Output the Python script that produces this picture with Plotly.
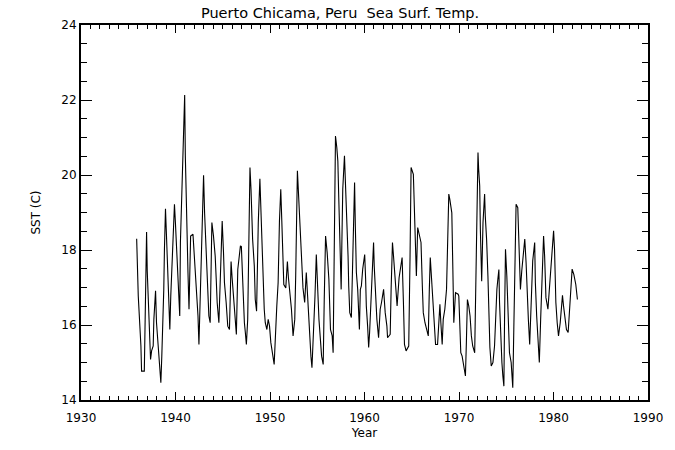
import plotly.graph_objects as go

# Puerto Chicama, Peru sea surface temperature
years = [
    1935.89, 1935.96, 1936.06, 1936.34, 1936.41, 1936.70, 1936.80, 1936.94, 1937.01, 1937.19,
    1937.29, 1937.36, 1937.47, 1937.64, 1937.71, 1937.89, 1937.99, 1938.24, 1938.34, 1938.45,
    1938.55, 1938.66, 1938.76, 1938.83, 1938.94, 1939.04, 1939.22, 1939.40, 1939.50, 1939.75,
    1939.89, 1939.99, 1940.10, 1940.27, 1940.45, 1940.52, 1940.66, 1940.80, 1940.87, 1940.97,
    1941.04, 1941.15, 1941.32, 1941.43, 1941.60, 1941.85, 1942.02, 1942.20, 1942.38, 1942.48,
    1942.62, 1942.83, 1942.97,
    1943.08, 1943.25, 1943.32, 1943.43, 1943.53, 1943.67, 1943.78, 1943.85, 1944.02, 1944.20,
    1944.31, 1944.41, 1944.59, 1944.76, 1944.83, 1944.94, 1945.08, 1945.18, 1945.36, 1945.53,
    1945.71, 1945.78, 1945.88, 1945.99, 1946.16, 1946.30, 1946.44, 1946.59, 1946.69, 1946.87,
    1946.97, 1947.11, 1947.22, 1947.29, 1947.39, 1947.50, 1947.64, 1947.74, 1947.88, 1947.99,
    1948.16, 1948.34, 1948.44, 1948.58, 1948.76, 1948.93, 1949.11, 1949.22, 1949.39, 1949.50,
    1949.67, 1949.81, 1949.95, 1950.09, 1950.27, 1950.44, 1950.72, 1950.86, 1951.00, 1951.14,
    1951.25, 1951.39, 1951.46, 1951.67, 1951.84, 1951.95, 1952.13, 1952.27, 1952.44, 1952.62,
    1952.72, 1952.90, 1953.07, 1953.21, 1953.35, 1953.49, 1953.67, 1953.84, 1953.98, 1954.12,
    1954.23, 1954.33, 1954.44, 1954.58, 1954.76, 1954.90, 1955.04, 1955.18, 1955.46, 1955.63,
    1955.74, 1955.88, 1956.05, 1956.23, 1956.40, 1956.58, 1956.68, 1956.82, 1956.93, 1957.07,
    1957.18, 1957.28, 1957.42, 1957.53, 1957.60, 1957.70, 1957.88, 1957.98, 1958.16, 1958.26,
    1958.33, 1958.44, 1958.61, 1958.75, 1958.89, 1958.95,
    1959.03, 1959.14, 1959.28, 1959.35, 1959.46, 1959.56, 1959.67, 1959.81, 1960.02, 1960.12,
    1960.19, 1960.33, 1960.44, 1960.54, 1960.61, 1960.79, 1960.96, 1961.03, 1961.14, 1961.31,
    1961.49, 1961.66, 1961.80, 1962.02, 1962.19, 1962.37, 1962.44, 1962.72, 1962.82, 1962.96,
    1963.07, 1963.17, 1963.28, 1963.45, 1963.66, 1963.98, 1964.12, 1964.23, 1964.40, 1964.68,
    1964.82, 1964.93, 1965.17, 1965.28, 1965.38, 1965.49, 1965.63, 1965.80, 1965.98, 1966.12,
    1966.22, 1966.40,
    1966.75, 1966.86, 1966.96, 1967.10, 1967.21, 1967.31, 1967.42, 1967.52, 1967.73, 1967.84,
    1967.98, 1968.08, 1968.22, 1968.33, 1968.50, 1968.68, 1968.78, 1968.92, 1969.03, 1969.13,
    1969.24, 1969.35, 1969.45, 1969.63, 1969.91, 1969.98, 1970.08, 1970.19, 1970.33, 1970.47,
    1970.68, 1970.78, 1970.89, 1971.03, 1971.17, 1971.31, 1971.45, 1971.66, 1971.77, 1971.87,
    1972.01, 1972.08, 1972.19, 1972.26, 1972.40, 1972.54, 1972.71, 1972.78, 1972.92, 1973.06,
    1973.17, 1973.27, 1973.41, 1973.59, 1973.76, 1973.87, 1974.01, 1974.11, 1974.22, 1974.29,
    1974.40, 1974.54, 1974.64, 1974.75,
    1974.82, 1974.92, 1975.06, 1975.17, 1975.34, 1975.52, 1975.69, 1975.80, 1975.90, 1976.04,
    1976.22, 1976.32, 1976.39, 1976.50, 1976.64, 1976.82, 1976.96, 1977.10, 1977.20, 1977.34,
    1977.48, 1977.66, 1977.80, 1978.01, 1978.08, 1978.22, 1978.36, 1978.50, 1978.64, 1978.78,
    1978.95, 1979.06, 1979.20, 1979.41, 1979.59, 1979.80, 1980.01, 1980.11, 1980.25, 1980.39,
    1980.53, 1980.71, 1980.81, 1980.95, 1981.06, 1981.20, 1981.37, 1981.55, 1981.73, 1981.83,
    1981.97, 1982.15, 1982.36, 1982.53,
]

sst = [
    18.30, 17.57, 16.77, 15.44, 14.77, 14.77, 16.95, 18.48, 17.44, 16.15,
    15.75, 15.08, 15.31, 15.44, 16.15, 16.91, 16.06, 15.22, 14.91, 14.46,
    15.17, 15.88, 16.95, 18.02, 19.10, 18.42, 17.31, 15.88, 16.77, 18.20,
    19.22, 18.73, 18.11, 17.13, 16.24, 18.20, 19.62, 20.42, 21.31, 22.13,
    20.51, 18.91, 17.40, 16.42, 18.37, 18.42, 17.66, 17.13, 16.24, 15.48,
    16.95, 18.99, 19.99,
    18.98, 17.93, 17.17, 16.51, 16.24, 16.06, 17.40, 18.73, 18.37, 17.84,
    17.22, 16.60, 16.06, 17.40, 17.93, 18.77, 17.93, 17.13, 16.60, 15.97,
    15.88, 16.77, 17.69, 17.26, 16.60, 16.15, 15.75, 17.48, 17.66, 18.11,
    18.09, 17.13, 16.42, 16.06, 15.80, 15.48, 16.15, 18.20, 20.20, 19.62,
    18.29, 17.57, 16.68, 16.37, 18.73, 19.90, 18.55, 17.22, 16.42, 16.06,
    15.88, 16.15, 15.97, 15.53, 15.26, 14.95, 16.51, 17.13, 18.77, 19.62,
    18.77, 17.84, 17.08, 16.99, 17.69, 17.26, 16.86, 16.42, 15.71, 16.15,
    17.31, 20.11, 19.22, 18.33, 17.40, 16.99, 16.60, 17.40, 16.77, 16.15,
    15.44, 15.17, 14.86, 15.53, 16.77, 17.88, 17.04, 16.15, 15.17, 14.95,
    16.68, 18.37, 17.93, 17.22, 15.88, 15.71, 15.26, 18.29, 21.04, 20.73,
    20.37, 19.35, 18.29, 16.95, 18.11, 19.62, 20.51, 19.80, 18.99, 17.84,
    17.04, 16.33, 16.20, 17.49, 18.73, 19.80,
    18.64, 17.40, 16.95, 16.42, 15.88, 16.95, 17.04, 17.49, 17.88, 17.22,
    16.51, 15.97, 15.40, 15.80, 16.15, 17.40, 18.20, 17.57, 16.95, 16.15,
    15.66, 16.42, 16.60, 16.95, 16.33, 15.97, 15.66, 15.75, 16.99, 18.20,
    17.84, 17.48, 16.95, 16.51, 17.26, 17.80, 16.60, 15.48, 15.31, 15.44,
    17.84, 20.20, 20.02, 19.08, 18.20, 17.31, 18.60, 18.37, 18.20, 17.04,
    16.33, 16.06,
    15.71, 16.95, 17.80, 17.22, 16.68, 16.24, 15.88, 15.48, 15.48, 16.15,
    16.55, 16.06, 15.48, 16.15, 16.42, 16.95, 18.20, 19.49, 19.35, 19.17,
    18.99, 17.48, 16.06, 16.86, 16.82, 16.77, 16.02, 15.26, 15.17, 14.91,
    14.64, 15.53, 16.68, 16.51, 16.24, 15.71, 15.44, 15.26, 17.04, 18.82,
    20.60, 20.15, 19.71, 18.55, 17.17, 18.73, 19.49, 18.91, 18.29, 17.31,
    16.33, 15.40, 14.91, 15.00, 15.44, 16.24, 16.95, 17.22, 17.48, 16.60,
    15.71, 15.00, 14.64, 14.37,
    16.15, 18.02, 17.31, 16.60, 15.26, 15.00, 14.33, 15.89, 17.62, 19.22,
    19.13, 18.46, 17.71, 16.95, 17.44, 17.88, 18.29, 17.66, 16.77, 16.15,
    15.48, 16.86, 17.71, 18.20, 17.13, 16.24, 15.53, 15.00, 16.15, 17.13,
    18.37, 17.84, 16.73, 16.42, 17.08, 17.66, 18.51, 18.02, 16.60, 16.06,
    15.71, 16.06, 16.33, 16.79, 16.51, 16.15, 15.88, 15.80, 16.42, 16.95,
    17.49, 17.35, 17.08, 16.68,
]

x_ticks = [1930, 1940, 1950, 1960, 1970, 1980, 1990]
y_ticks = [14, 16, 18, 20, 22, 24]

title_text = "Puerto Chicama, Peru  Sea Surf. Temp."
x_title = "Year"
y_title = "SST (C)"

FONT = "DejaVu Sans"
FIG_W, FIG_H = 675, 450

fig = go.Figure()
fig.add_trace(go.Scatter(
    x=years, y=sst, mode="lines",
    line=dict(color="black", width=1.1),
    hoverinfo="skip", showlegend=False,
))

axis_common = dict(
    showgrid=False, zeroline=False,
    showline=True, linecolor="black", linewidth=2,
    mirror="allticks", ticks="inside", tickcolor="black", tickwidth=1,
    tickfont=dict(family=FONT, size=12, color="black"),
)

fig.update_xaxes(
    range=[1930, 1990], tickvals=x_ticks, ticklen=8,
    minor=dict(dtick=1, ticks="inside", ticklen=4, tickcolor="black", tickwidth=1),
    ticklabelstandoff=6,
    title=dict(text=x_title, font=dict(family=FONT, size=12, color="black"), standoff=4),
    **axis_common,
)
fig.update_yaxes(
    range=[14, 24], tickvals=y_ticks, ticklen=11,
    minor=dict(dtick=0.5, ticks="inside", ticklen=6, tickcolor="black", tickwidth=1),
    ticklabelstandoff=0,
    title=dict(text=y_title, font=dict(family=FONT, size=12, color="black"), standoff=18),
    **axis_common,
)

fig.update_layout(
    width=FIG_W, height=FIG_H,
    margin=dict(l=81, r=24, t=25, b=49),
    paper_bgcolor="white", plot_bgcolor="white",
    title=dict(text=title_text, x=340 / FIG_W, xref="container", xanchor="center",
               y=1 - 13 / FIG_H, yref="container", yanchor="middle",
               font=dict(family=FONT, size=14.5, color="black")),
)

# remove the browser's default 8px body margin so the figure sits at (0, 0)
fig.write_html("out.html", config={"displayModeBar": False, "staticPlot": True},
               post_script="document.body.style.margin='0';")
